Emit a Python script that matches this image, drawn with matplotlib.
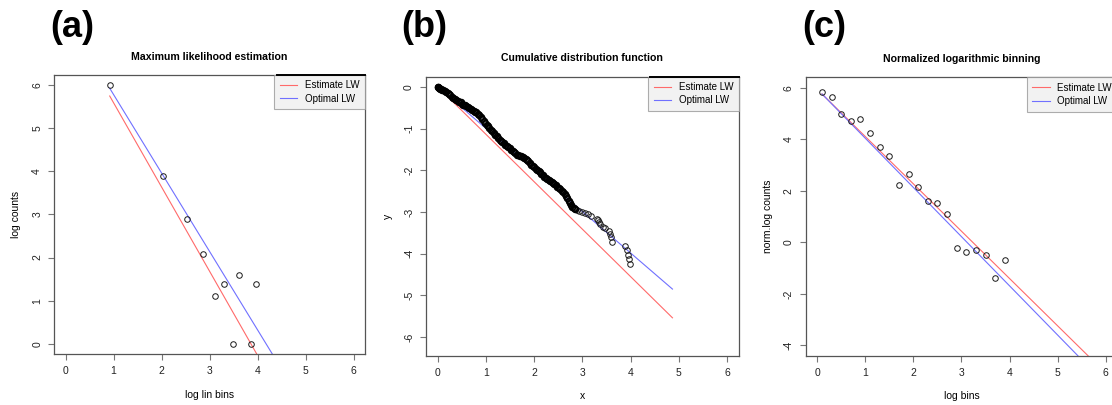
import matplotlib
matplotlib.use("Agg")
import matplotlib.pyplot as plt

plt.rcParams["font.family"] = ["Liberation Sans", "DejaVu Sans"]
plt.rcParams["axes.unicode_minus"] = False

# (a) maximum likelihood estimation
mle_x = [0.92, 2.02, 2.53, 2.86, 3.11, 3.31, 3.62, 3.48, 3.86, 3.96]
mle_y = [6.00, 3.90, 2.90, 2.08, 1.10, 1.38, 1.60, 0.00, 0.00, 1.38]
mle_est_x = [0.92, 4.10]
mle_est_y = [5.75, -0.47]
mle_opt_x = [0.92, 4.45]
mle_opt_y = [5.93, -0.50]

# (b) cumulative distribution function
cdf_x = [0.00, 0.01, 0.02, 0.03, 0.05, 0.07, 0.09, 0.11, 0.14, 0.17, 0.20, 0.23,
         0.26, 0.29, 0.32, 0.35, 0.38, 0.41, 0.44, 0.47, 0.50, 0.53, 0.56, 0.59,
         0.62, 0.65, 0.68, 0.71, 0.74, 0.77, 0.80, 0.83, 0.86, 0.89, 0.92, 0.95,
         0.98, 1.01, 1.04, 1.07, 1.10, 1.13, 1.16, 1.19, 1.22, 1.25, 1.28, 1.31,
         1.34, 1.37, 1.40, 1.43, 1.46, 1.49, 1.52, 1.55, 1.58, 1.61, 1.64, 1.67,
         1.70, 1.73, 1.76, 1.79, 1.82, 1.85, 1.88, 1.91, 1.94, 1.97, 2.00, 2.03,
         2.06, 2.09, 2.12, 2.15, 2.18, 2.21, 2.24, 2.27, 2.30, 2.33, 2.36, 2.39,
         2.42, 2.45, 2.48, 2.51, 2.54, 2.57, 2.60, 2.63, 2.66, 2.69, 2.72, 2.74,
         2.76, 2.79, 2.82, 2.85, 2.88, 2.93, 3.00, 3.06, 3.12, 3.18, 3.30, 3.32,
         3.34, 3.37, 3.43, 3.47, 3.55, 3.57, 3.59, 3.62, 3.88, 3.92, 3.95, 3.96,
         3.98]
cdf_y = [0.00, -0.01, -0.02, -0.02, -0.04, -0.05, -0.07, -0.08, -0.10, -0.12, -0.15, -0.17,
         -0.20, -0.23, -0.26, -0.28, -0.30, -0.33, -0.35, -0.37, -0.40, -0.42, -0.44, -0.46,
         -0.49, -0.51, -0.53, -0.55, -0.57, -0.59, -0.61, -0.64, -0.68, -0.72, -0.77, -0.82,
         -0.87, -0.91, -0.94, -0.98, -1.02, -1.06, -1.10, -1.14, -1.18, -1.22, -1.26, -1.29,
         -1.32, -1.35, -1.38, -1.41, -1.44, -1.47, -1.50, -1.53, -1.56, -1.59, -1.62, -1.64,
         -1.65, -1.66, -1.68, -1.70, -1.72, -1.74, -1.78, -1.82, -1.86, -1.89, -1.92, -1.96,
         -2.00, -2.02, -2.05, -2.08, -2.12, -2.15, -2.18, -2.21, -2.23, -2.25, -2.28, -2.30,
         -2.33, -2.36, -2.39, -2.42, -2.45, -2.49, -2.53, -2.57, -2.62, -2.67, -2.73, -2.79,
         -2.83, -2.87, -2.90, -2.93, -2.96, -2.98, -3.00, -3.03, -3.05, -3.09, -3.17, -3.20,
         -3.24, -3.29, -3.35, -3.38, -3.45, -3.53, -3.61, -3.71, -3.81, -3.92, -4.03, -4.13,
         -4.25]
cdf_est_x = [0.00, 4.87]
cdf_est_y = [0.00, -5.54]
cdf_opt_x = [0.00, 4.87]
cdf_opt_y = [0.00, -4.85]

# (c) normalized logarithmic binning
nlb_x = [0.1, 0.3, 0.5, 0.7, 0.9, 1.1, 1.3, 1.5, 1.7, 1.9,
         2.1, 2.3, 2.5, 2.7, 2.9, 3.1, 3.3, 3.5, 3.7, 3.9]
nlb_y = [5.85, 5.65, 4.97, 4.70, 4.77, 4.25, 3.71, 3.34, 2.21, 2.66,
         2.15, 1.61, 1.51, 1.11, -0.20, -0.39, -0.30, -0.51, -1.40, -0.69]
nlb_est_x = [0.1, 6.0]
nlb_est_y = [5.76, -5.08]
nlb_opt_x = [0.1, 6.0]
nlb_opt_y = [5.76, -5.51]

RED = "#ff6a6a"
BLUE = "#7070ff"
FRAME = "#555555"

fig = plt.figure(figsize=(11.12, 4.05), dpi=100)


def style_axes(ax, xlim, ylim, yticks, xlabel, ylabel, title, letter, letter_x):
    ax.set_xlim(*xlim)
    ax.set_ylim(*ylim)
    ax.set_xticks(range(0, 7))
    ax.set_yticks(yticks)
    ax.set_yticklabels([str(t) for t in yticks], rotation=90, va="center")
    for s in ax.spines.values():
        s.set_color(FRAME)
        s.set_linewidth(0.9)
    ax.tick_params(direction="out", length=4, width=0.8, color="#777777",
                   labelsize=7.5, labelcolor="#222222", pad=4.5)
    ax.set_xlabel(xlabel, fontsize=7.5, labelpad=10)
    ax.set_ylabel(ylabel, fontsize=7.5, labelpad=8)
    ax.set_title(title, fontsize=7.6, fontweight="bold", pad=11)
    fig.text(letter_x, 0.932, letter, fontsize=26, fontweight="bold",
             ha="left", va="center")
    leg = ax.legend(loc="upper right", fontsize=7, frameon=True, fancybox=False,
                    borderaxespad=0, handlelength=1.8, handletextpad=0.8,
                    borderpad=0.55, labelspacing=0.35)
    leg.get_frame().set_facecolor("#efefef")
    leg.get_frame().set_edgecolor("#999999")
    leg.get_frame().set_linewidth(0.8)


def draw_panel(rect, px, py, ex, ey, ox, oy, **kw):
    ax = fig.add_axes(rect)
    ax.plot(px, py, "o", mfc="none", mec="#1a1a1a", ms=4.0, mew=0.7, zorder=3)
    ax.plot(ex, ey, color=RED, lw=0.8, label="Estimate LW")
    ax.plot(ox, oy, color=BLUE, lw=0.8, label="Optimal LW")
    style_axes(ax, **kw)
    return ax


ax_a = draw_panel([0.0486, 0.126, 0.2797, 0.689], mle_x, mle_y,
                  mle_est_x, mle_est_y, mle_opt_x, mle_opt_y,
                  xlim=(-0.24, 6.24), ylim=(-0.24, 6.24), yticks=list(range(0, 7)),
                  xlabel="log lin bins", ylabel="log counts",
                  title="Maximum likelihood estimation", letter="(a)", letter_x=0.045)
ax_a.plot([0.717, 1.0], [1.0, 1.0], color="black", lw=1.4,
          transform=ax_a.transAxes, clip_on=False, zorder=10)

ax_b = draw_panel([0.383, 0.1217, 0.2815, 0.689], cdf_x, cdf_y,
                  cdf_est_x, cdf_est_y, cdf_opt_x, cdf_opt_y,
                  xlim=(-0.25, 6.25), ylim=(-6.45, 0.25), yticks=list(range(0, -7, -1)),
                  xlabel="x", ylabel="y",
                  title="Cumulative distribution function", letter="(b)", letter_x=0.361)
# the dense head of the CDF overlaps into a solid black band
ax_b.plot(cdf_x[:100], cdf_y[:100], "o", mfc="none", mec="black", ms=4.2, mew=1.2, zorder=4)
ax_b.plot([0.716, 1.0], [1.0, 1.0], color="black", lw=1.4,
          transform=ax_b.transAxes, clip_on=False, zorder=10)

ax_c = draw_panel([0.7245, 0.1217, 0.2803, 0.687], nlb_x, nlb_y,
                  nlb_est_x, nlb_est_y, nlb_opt_x, nlb_opt_y,
                  xlim=(-0.24, 6.24), ylim=(-4.4, 6.4), yticks=[-4, -2, 0, 2, 4, 6],
                  xlabel="log bins", ylabel="norm.log counts",
                  title="Normalized logarithmic binning", letter="(c)", letter_x=0.721)

fig.savefig("out.png", dpi=100)
